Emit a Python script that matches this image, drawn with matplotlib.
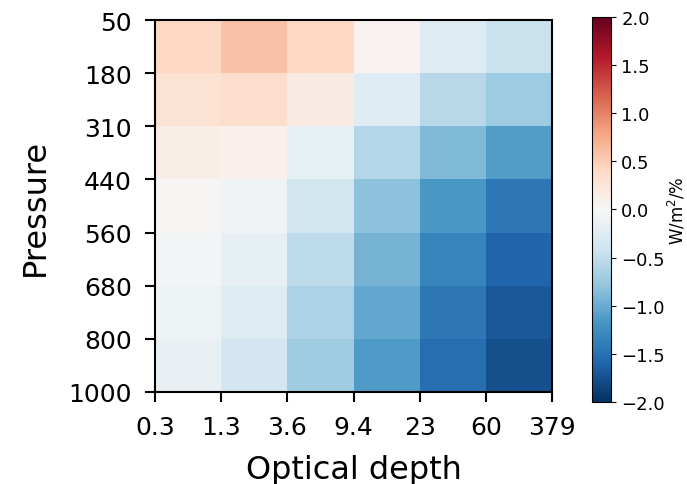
import numpy as np
import matplotlib
matplotlib.use("Agg")
import matplotlib.pyplot as plt

tau_labels = ["0.3", "1.3", "3.6", "9.4", "23", "60", "379"]
pressure_labels = ["50", "180", "310", "440", "560", "680", "800", "1000"]

# rows: pressure bins (top to bottom), cols: optical depth bins
row_50 = [0.42, 0.59, 0.42, 0.05, -0.26, -0.45]
row_180 = [0.31, 0.37, 0.16, -0.24, -0.56, -0.72]
row_310 = [0.13, 0.10, -0.16, -0.58, -0.89, -1.12]
row_440 = [0.02, -0.08, -0.38, -0.82, -1.17, -1.44]
row_560 = [-0.06, -0.18, -0.52, -0.95, -1.34, -1.60]
row_680 = [-0.10, -0.27, -0.64, -1.04, -1.44, -1.69]
row_800 = [-0.15, -0.36, -0.71, -1.14, -1.52, -1.76]

values = np.array([row_50, row_180, row_310, row_440, row_560, row_680, row_800])

fig = plt.figure(figsize=(6.87, 4.85), dpi=100)
ax = fig.add_axes([0.2256, 0.1897, 0.578, 0.767])
cax = fig.add_axes([0.861, 0.169, 0.029, 0.794])

mesh = ax.pcolormesh(values, cmap="RdBu_r", vmin=-2, vmax=2)
ax.set_xlim(0, values.shape[1])
ax.set_ylim(values.shape[0], 0)

ax.set_xticks(np.arange(len(tau_labels)))
ax.set_xticklabels(tau_labels, fontsize=18)
ax.set_yticks(np.arange(len(pressure_labels)))
ax.set_yticklabels(pressure_labels, fontsize=18)
ax.tick_params(length=7.5, width=1.5, pad=9)
for sp in ax.spines.values():
    sp.set_linewidth(1.5)

ax.set_xlabel("Optical depth", fontsize=23, labelpad=11)
ax.set_ylabel("Pressure", fontsize=23, labelpad=13)

cb = fig.colorbar(mesh, cax=cax)
cb.set_ticks([-2.0, -1.5, -1.0, -0.5, 0.0, 0.5, 1.0, 1.5, 2.0])
cb.ax.tick_params(labelsize=13)
cb.set_label("W/m$^2$/%", fontsize=12, labelpad=1)

fig.savefig("out.png", dpi=100)
